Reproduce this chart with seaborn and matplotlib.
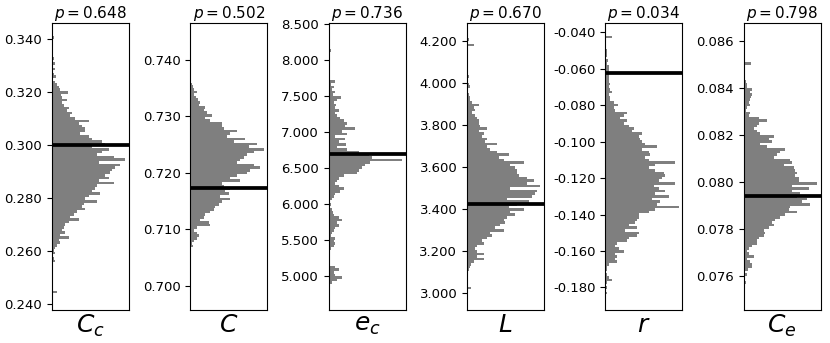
import numpy as np
import matplotlib
matplotlib.use('Agg')
import matplotlib.pyplot as plt
import seaborn as sns
from matplotlib.ticker import FormatStrFormatter

################################################################################
# data: 100 bins per panel, counts listed from the
# top of the axis (largest value) down to the bottom

labels = [r'$C_c$', r'$C$', r'$e_c$', r'$L$', r'$r$', r'$C_e$']
p_values = [0.648, 0.502, 0.736, 0.670, 0.034, 0.798]
ref_values = [0.300, 0.7174, 6.692, 3.423, -0.0625, 0.07939]

bin_lo = [0.2430, 0.6980, 4.700, 2.983, -0.1852, 0.07510]
bin_hi = [0.3410, 0.7443, 8.336, 4.225, -0.0419, 0.08621]

y_limits = [(0.2377, 0.3462), (0.6957, 0.7466), (4.52, 8.52),
            (2.921, 4.287), (-0.1924, -0.0347), (0.07454, 0.08677)]
y_ticks = [
    [0.240, 0.260, 0.280, 0.300, 0.320, 0.340],
    [0.700, 0.710, 0.720, 0.730, 0.740],
    [5.0, 5.5, 6.0, 6.5, 7.0, 7.5, 8.0, 8.5],
    [3.0, 3.2, 3.4, 3.6, 3.8, 4.0, 4.2],
    [-0.180, -0.160, -0.140, -0.120, -0.100, -0.080, -0.060, -0.040],
    [0.076, 0.078, 0.080, 0.082, 0.084, 0.086],
]

counts_cc = [
    5, 4, 0, 3, 0, 4, 0, 3, 6, 0,
    10, 4, 8, 0, 5, 12, 3, 10, 15, 20,
    25, 48, 28, 30, 45, 30, 35, 50, 45, 60,
    55, 70, 110, 80, 90, 100, 100, 85, 110, 120,
    150, 160, 120, 170, 150, 135, 185, 220, 140, 205,
    190, 180, 175, 160, 170, 140, 185, 135, 130, 120,
    145, 110, 100, 135, 95, 90, 100, 75, 65, 55,
    80, 50, 40, 35, 30, 40, 25, 50, 20, 25,
    15, 10, 5, 8, 0, 5, 8, 0, 3, 0,
    0, 4, 0, 3, 0, 0, 3, 0, 14, 3,
]
counts_c = [
    3, 0, 0, 2, 0, 0, 2, 0, 3, 0,
    0, 2, 0, 0, 0, 2, 0, 3, 5, 8,
    10, 20, 12, 18, 22, 30, 25, 45, 40, 50,
    65, 45, 60, 95, 95, 100, 140, 120, 110, 165,
    130, 200, 175, 220, 190, 170, 160, 150, 140, 190,
    210, 180, 170, 140, 120, 150, 95, 100, 120, 105,
    115, 90, 120, 95, 85, 75, 70, 60, 45, 40,
    30, 55, 60, 20, 12, 20, 25, 20, 12, 5,
    8, 3, 0, 3, 0, 2, 0, 0, 2, 0,
    0, 2, 0, 0, 2, 0, 2, 0, 0, 3,
]
counts_ec = [
    2, 0, 0, 0, 0, 8, 3, 0, 0, 2,
    0, 0, 3, 0, 0, 3, 0, 20, 8, 15,
    10, 18, 12, 38, 25, 15, 22, 18, 30, 20,
    25, 35, 45, 55, 50, 80, 40, 55, 20, 50,
    30, 52, 25, 55, 90, 120, 130, 220, 125, 110,
    100, 90, 85, 45, 30, 25, 20, 30, 45, 35,
    20, 15, 10, 5, 8, 3, 10, 12, 15, 30,
    40, 25, 30, 20, 15, 10, 8, 20, 15, 18,
    15, 8, 3, 0, 0, 2, 0, 5, 20, 30,
    15, 20, 40, 25, 10, 5, 0, 0, 3, 2,
]
counts_l = [
    3, 5, 0, 20, 3, 0, 3, 0, 3, 3,
    0, 0, 3, 3, 3, 5, 3, 3, 5, 8,
    3, 3, 5, 8, 10, 15, 35, 20, 25, 15,
    25, 30, 35, 35, 38, 60, 35, 50, 45, 60,
    55, 90, 60, 70, 90, 125, 95, 110, 170, 130,
    145, 150, 150, 155, 180, 200, 180, 220, 130, 210,
    205, 195, 120, 185, 150, 125, 170, 130, 145, 120,
    110, 115, 100, 85, 110, 70, 75, 60, 45, 50,
    30, 25, 30, 50, 30, 50, 20, 12, 10, 5,
    3, 3, 0, 3, 0, 3, 12, 3, 0, 3,
]
counts_r = [
    20, 0, 0, 0, 0, 5, 5, 5, 3, 8,
    5, 10, 12, 10, 12, 12, 10, 10, 15, 12,
    15, 20, 12, 15, 15, 25, 38, 25, 30, 65,
    55, 45, 65, 55, 70, 85, 80, 110, 100, 105,
    110, 120, 155, 110, 130, 135, 120, 130, 210, 150,
    130, 150, 175, 180, 170, 160, 210, 145, 160, 180,
    150, 190, 140, 165, 155, 220, 150, 130, 100, 100,
    95, 90, 70, 95, 60, 100, 95, 70, 65, 35,
    30, 40, 55, 30, 35, 30, 35, 10, 5, 5,
    3, 5, 10, 20, 5, 3, 5, 3, 5, 3,
]
counts_ce = [
    0, 3, 0, 3, 0, 0, 3, 5, 3, 3,
    22, 3, 0, 3, 0, 3, 5, 8, 10, 10,
    25, 20, 25, 22, 20, 15, 20, 10, 8, 20,
    15, 45, 70, 45, 40, 30, 40, 50, 90, 75,
    85, 50, 70, 125, 110, 100, 90, 140, 145, 120,
    150, 155, 160, 155, 165, 165, 220, 145, 195, 145,
    170, 160, 190, 175, 200, 140, 135, 160, 125, 110,
    95, 85, 90, 75, 60, 65, 60, 45, 40, 40,
    25, 15, 10, 15, 30, 10, 20, 25, 25, 12,
    5, 10, 3, 5, 8, 5, 0, 3, 0, 3,
]
all_counts = [counts_cc, counts_c, counts_ec, counts_l, counts_r, counts_ce]

################################################################################

fig, axes = plt.subplots(1, 6, figsize=(8.3, 3.43), dpi=100)
plt.subplots_adjust(left=0.0627, right=0.9888, bottom=0.0962, top=0.9338, wspace=0.795)

for i, ax in enumerate(axes):
    counts = np.array(all_counts[i])
    n = len(counts)
    width = (bin_hi[i] - bin_lo[i]) / n
    centers = bin_hi[i] - (np.arange(n) + 0.5) * width

    sns.histplot(
        y=centers,
        weights=counts,
        bins=n,
        binrange=(bin_lo[i], bin_hi[i]),
        color='#7f7f7f',
        linewidth=0,
        alpha=1,
        ax=ax,
    )
    ax.axhline(ref_values[i], color='black', linewidth=2.7)

    ax.set_ylim(*y_limits[i])
    ax.set_yticks(y_ticks[i])
    ax.yaxis.set_major_formatter(FormatStrFormatter('%.3f'))
    ax.tick_params(axis='y', labelsize=9.5)
    ax.set_xticks([])
    ax.set_ylabel('')
    ax.set_xlabel(labels[i], fontsize=18, labelpad=2)
    ax.set_title(f'$p = ${p_values[i]:.3f}', fontsize=11, pad=2)

plt.savefig('out.png', dpi=100)
